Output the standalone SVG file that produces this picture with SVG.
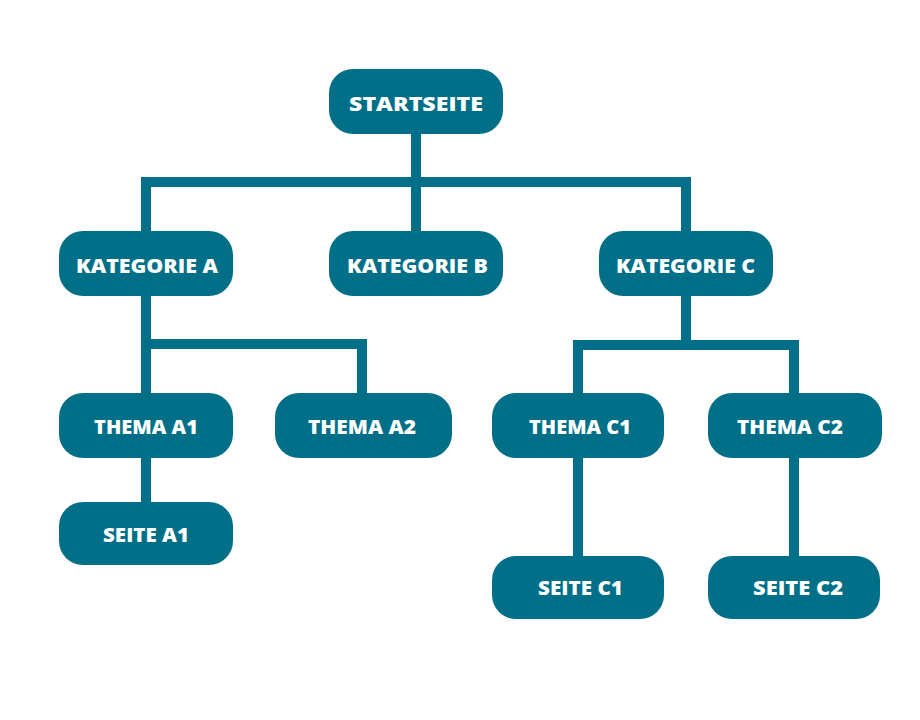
<svg xmlns="http://www.w3.org/2000/svg" width="920" height="720" viewBox="0 0 920 720">
  <style>
    .box { fill: #006f87; }
    .lbl { fill: #ffffff; font-family: "Open Sans", "Liberation Sans", sans-serif; font-weight: 800; font-size: 19px; text-anchor: middle; }
    .conn { fill: none; stroke: #006f87; stroke-width: 10; stroke-linejoin: miter; stroke-linecap: butt; }
  </style>
  <rect width="920" height="720" fill="#ffffff"/>
  <g id="connectors">
    <path class="conn" d="M416 134 V182"/>
    <path class="conn" d="M146 231 V182 H686 V231"/>
    <path class="conn" d="M416 182 V231"/>
    <path class="conn" d="M146 296 V393"/>
    <path class="conn" d="M146 344 H362 V393"/>
    <path class="conn" d="M146 458 V502"/>
    <path class="conn" d="M686 296 V345"/>
    <path class="conn" d="M578 393 V345 H794 V393"/>
    <path class="conn" d="M578 458 V556"/>
    <path class="conn" d="M794 458 V556"/>
  </g>
  <g id="startseite">
    <rect class="box" x="329" y="69" width="174" height="65" rx="24"/>
    <text class="lbl" x="416" y="110.5" textLength="134" lengthAdjust="spacingAndGlyphs">STARTSEITE</text>
  </g>
  <g id="kategorie-a">
    <rect class="box" x="59" y="231" width="174" height="65" rx="24"/>
    <text class="lbl" x="147" y="272.5" textLength="142" lengthAdjust="spacingAndGlyphs">KATEGORIE A</text>
  </g>
  <g id="kategorie-b">
    <rect class="box" x="329" y="231" width="174" height="65" rx="24"/>
    <text class="lbl" x="417.5" y="272.5" textLength="141" lengthAdjust="spacingAndGlyphs">KATEGORIE B</text>
  </g>
  <g id="kategorie-c">
    <rect class="box" x="599" y="231" width="174" height="65" rx="24"/>
    <text class="lbl" x="685.5" y="272.5" textLength="139" lengthAdjust="spacingAndGlyphs">KATEGORIE C</text>
  </g>
  <g id="thema-a1">
    <rect class="box" x="59" y="393" width="174" height="65" rx="24"/>
    <text class="lbl" x="146" y="434" textLength="104" lengthAdjust="spacingAndGlyphs">THEMA A1</text>
  </g>
  <g id="thema-a2">
    <rect class="box" x="275" y="393" width="177" height="65" rx="24"/>
    <text class="lbl" x="362" y="434" textLength="108" lengthAdjust="spacingAndGlyphs">THEMA A2</text>
  </g>
  <g id="thema-c1">
    <rect class="box" x="492" y="393" width="172" height="65" rx="24"/>
    <text class="lbl" x="580" y="434" textLength="102" lengthAdjust="spacingAndGlyphs">THEMA C1</text>
  </g>
  <g id="thema-c2">
    <rect class="box" x="708" y="393" width="174" height="65" rx="24"/>
    <text class="lbl" x="790" y="434" textLength="106" lengthAdjust="spacingAndGlyphs">THEMA C2</text>
  </g>
  <g id="seite-a1">
    <rect class="box" x="59" y="502" width="174" height="63" rx="24"/>
    <text class="lbl" x="146" y="542" textLength="86" lengthAdjust="spacingAndGlyphs">SEITE A1</text>
  </g>
  <g id="seite-c1">
    <rect class="box" x="492" y="556" width="172" height="63" rx="24"/>
    <text class="lbl" x="580.5" y="595" textLength="85" lengthAdjust="spacingAndGlyphs">SEITE C1</text>
  </g>
  <g id="seite-c2">
    <rect class="box" x="708" y="556" width="172" height="63" rx="24"/>
    <text class="lbl" x="798" y="595" textLength="90" lengthAdjust="spacingAndGlyphs">SEITE C2</text>
  </g>
</svg>
